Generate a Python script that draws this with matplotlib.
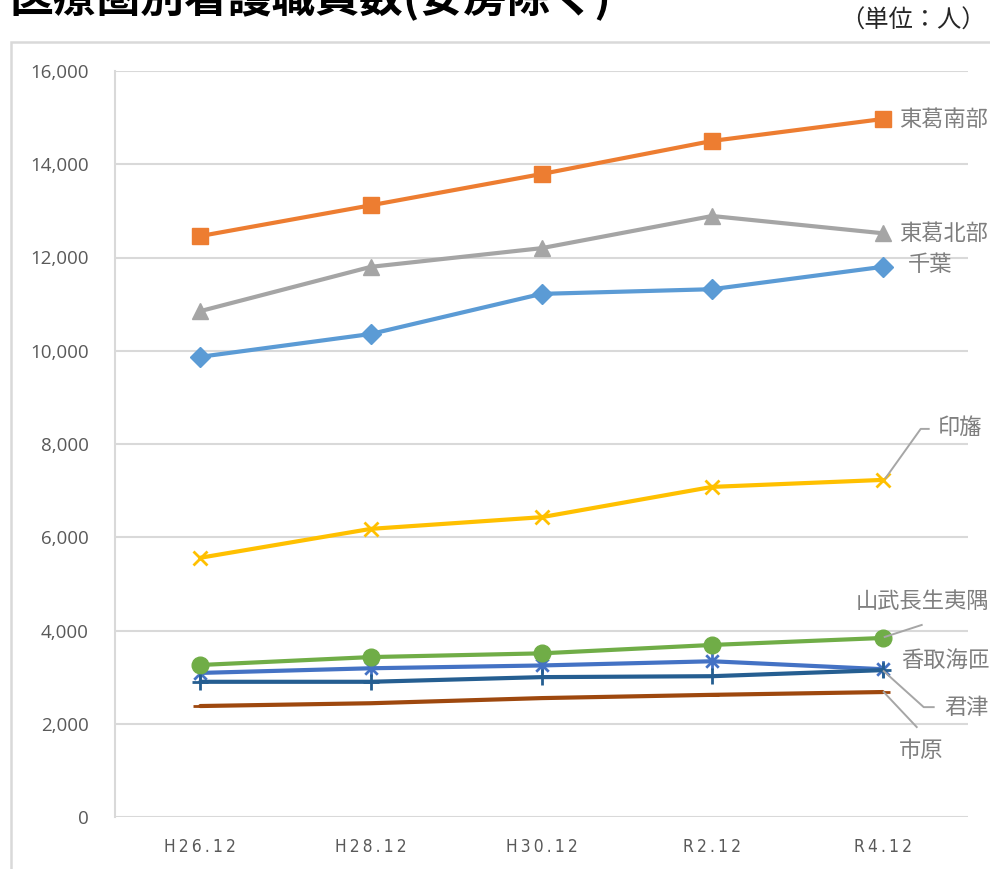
import matplotlib
matplotlib.use("Agg")
import matplotlib.pyplot as plt
from matplotlib.lines import Line2D
from matplotlib.patches import Rectangle
from matplotlib.path import Path
from matplotlib.transforms import IdentityTransform

plt.rcParams["font.family"] = ["Noto Sans CJK JP", "DejaVu Sans"]

# data (units: persons)
periods = ["H26.12", "H28.12", "H30.12", "R2.12", "R4.12"]
chiba = [9870, 10360, 11220, 11320, 11800]
toukatsu_s = [12460, 13120, 13790, 14500, 14970]
toukatsu_n = [10850, 11800, 12200, 12890, 12520]
inba = [5560, 6180, 6430, 7080, 7230]
katori = [3090, 3190, 3250, 3340, 3170]
sanbu = [3260, 3430, 3510, 3690, 3840]
kimitsu = [2900, 2900, 3000, 3020, 3150]
ichihara = [2380, 2440, 2550, 2620, 2680]

# Excel-style asterisk marker
star = Path([(0, -1), (0, 1), (-0.75, -0.75), (0.75, 0.75), (-0.75, 0.75), (0.75, -0.75)],
            [Path.MOVETO, Path.LINETO] * 3)

# name, values, colour, marker, marker size, text offset (px), leader points (px)
series = [
    ("千葉", chiba, "#5B9BD5", "D", 10, (25, 2), None),
    ("東葛南部", toukatsu_s, "#ED7D31", "s", 12, (16, 0), None),
    ("東葛北部", toukatsu_n, "#A5A5A5", "^", 12, (16, 0), None),
    ("印旛", inba, "#FFC000", "x", 10, (55, 52), [(3, 2), (38, 51), (46, 51)]),
    ("香取海匝", katori, "#4472C4", star, 12, (18, 9), None),
    ("山武長生夷隅", sanbu, "#70AD47", "o", 12, (-27, 36), [(2, 1), (39, 13)]),
    ("君津", kimitsu, "#255E91", "+", 11, (61, -37), [(1, -1), (41, -37), (51, -37)]),
    ("市原", ichihara, "#9E480E", "_", 10, (16, -58), [(1, 0), (34, -35)]),
]

fig = plt.figure(figsize=(9.9, 8.69), dpi=100)
ax = fig.add_axes([115 / 990, 1 - 817 / 869, 853 / 990, 746 / 869])

x = range(len(periods))
for name, vals, col, mk, ms, _, _ in series:
    filled = mk not in ("x", "+", "_") and mk is not star
    ax.plot(x, vals, color=col, lw=3, marker=mk, markersize=ms,
            markeredgewidth=2 if not filled else 1,
            markerfacecolor=col, markeredgecolor=col, zorder=3,
            solid_capstyle="round")

ax.set_xlim(-0.5, len(periods) - 0.5)
ax.set_ylim(0, 16000)
ax.set_yticks(range(0, 16001, 2000))
ax.set_yticklabels([f"{v:,}" for v in range(0, 16001, 2000)],
                   family=["Open Sans", "DejaVu Sans"], fontsize=13.5, color="#595959")
ax.set_xticks(list(x))
ax.set_xticklabels(["\u2009".join(p) for p in periods],
                   family="DejaVu Sans", fontstretch="condensed",
                   fontsize=12.5, color="#595959")
ax.tick_params(axis="both", length=0)
ax.tick_params(axis="y", pad=19)
ax.tick_params(axis="x", pad=15)
ax.grid(axis="y", color="#D9D9D9", lw=1.5)
ax.set_axisbelow(True)
for s in ("top", "right", "bottom"):
    ax.spines[s].set_visible(False)
ax.spines["left"].set_color("#D9D9D9")
ax.spines["left"].set_linewidth(1.5)

# data labels with leader lines, placed relative to the last point
fig.canvas.draw()
for name, vals, col, mk, ms, off, leader in series:
    px, py = ax.transData.transform((len(periods) - 1, vals[-1]))
    if leader:
        fig.add_artist(Line2D([px + dx for dx, _ in leader],
                              [py + dy for _, dy in leader],
                              transform=IdentityTransform(),
                              color="#A6A6A6", lw=1.4, zorder=2))
    fig.text(px + off[0], py + off[1], name, transform=IdentityTransform(),
             ha="left", va="center", fontsize=16, color="#7F7F7F")

# outer chart frame (cut off at right and bottom)
fig.add_artist(Rectangle((11 / 990, -0.1), 1.2, 1.1 - 42 / 869,
                         transform=fig.transFigure, fill=False,
                         edgecolor="#D9D9D9", lw=1.8))

fig.text(9 / 990, 1 - 12 / 869, "医療圏別看護職員数(安房除く)",
         fontsize=31.5, weight="bold", va="baseline", ha="left", color="black")
fig.text(986 / 990, 1 - 21 / 869, "（単位：人）", fontsize=17.5,
         ha="right", va="center", color="#262626")

fig.savefig("out.png", dpi=100)
